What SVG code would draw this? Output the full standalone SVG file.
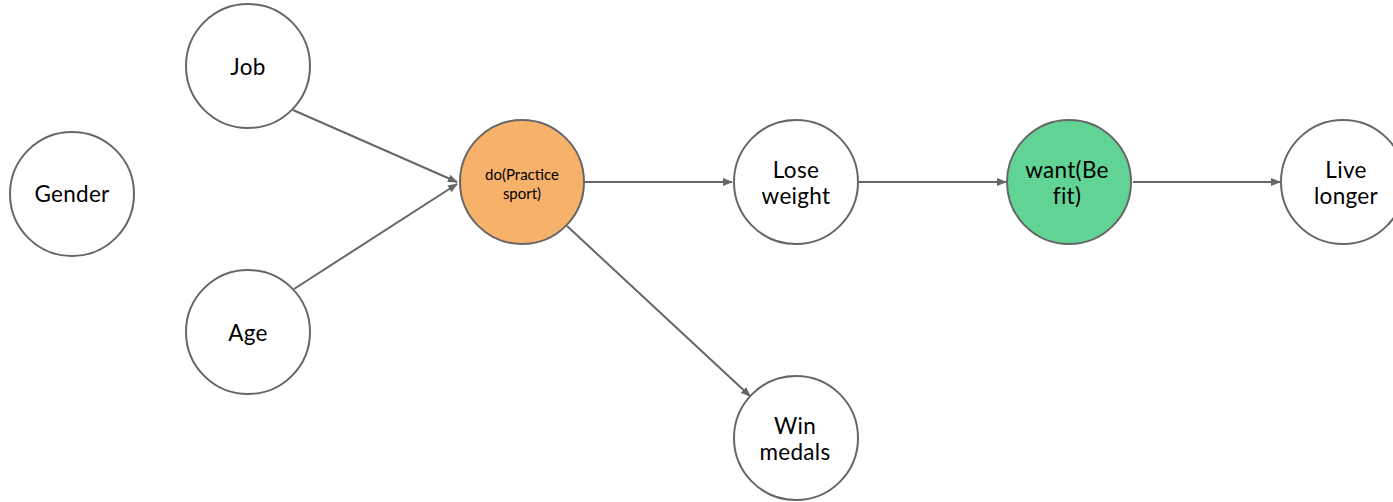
<svg xmlns="http://www.w3.org/2000/svg" width="1393" height="502" viewBox="0 0 1393 502">
<defs>
<marker id="arr" markerWidth="10" markerHeight="8" refX="9" refY="4" orient="auto" markerUnits="userSpaceOnUse">
<path d="M0,0 L10,4 L0,8 z" fill="#666"/>
</marker>
<style>
.n{fill:#fff;stroke:#666;stroke-width:2}
.t{font-family:Lato,"Open Sans",sans-serif;font-size:22.5px;fill:#000;text-anchor:middle;letter-spacing:0.3px}
.s{font-size:15px;letter-spacing:0}
.e{stroke:#666;stroke-width:2;fill:none;marker-end:url(#arr)}
</style>
</defs>
<rect width="1393" height="502" fill="#fff"/>
<g id="connectors">
<line class="e" x1="293" y1="110" x2="457" y2="182"/>
<line class="e" x1="294" y1="289" x2="457" y2="184"/>
<line class="e" x1="585" y1="182" x2="732" y2="182"/>
<line class="e" x1="859" y1="182" x2="1006" y2="182"/>
<line class="e" x1="1133" y1="182" x2="1280" y2="182"/>
<line class="e" x1="567" y1="226" x2="750" y2="396"/>
</g>
<g id="gender"><circle class="n" cx="72" cy="194" r="62"/><text class="t" x="72" y="202">Gender</text></g>
<g id="job"><circle class="n" cx="248" cy="66" r="62"/><text class="t" x="248" y="75">Job</text></g>
<g id="age"><circle class="n" cx="248" cy="332" r="62"/><text class="t" x="248" y="341">Age</text></g>
<g id="do"><circle class="n" cx="522" cy="182" r="62" style="fill:#f6b26b"/><text class="t s" x="522" y="180">do(Practice</text><text class="t s" x="522" y="199">sport)</text></g>
<g id="lose"><circle class="n" cx="796" cy="182" r="62"/><text class="t" x="796" y="178">Lose</text><text class="t" x="796" y="204">weight</text></g>
<g id="want"><circle class="n" cx="1069" cy="182" r="62" style="fill:#61d394"/><text class="t" x="1067" y="178">want(Be</text><text class="t" x="1067" y="204">fit)</text></g>
<g id="live"><circle class="n" cx="1343" cy="182" r="62"/><text class="t" x="1346" y="178">Live</text><text class="t" x="1346" y="204">longer</text></g>
<g id="win"><circle class="n" cx="796" cy="438" r="62"/><text class="t" x="795" y="434">Win</text><text class="t" x="795" y="460">medals</text></g>
</svg>
